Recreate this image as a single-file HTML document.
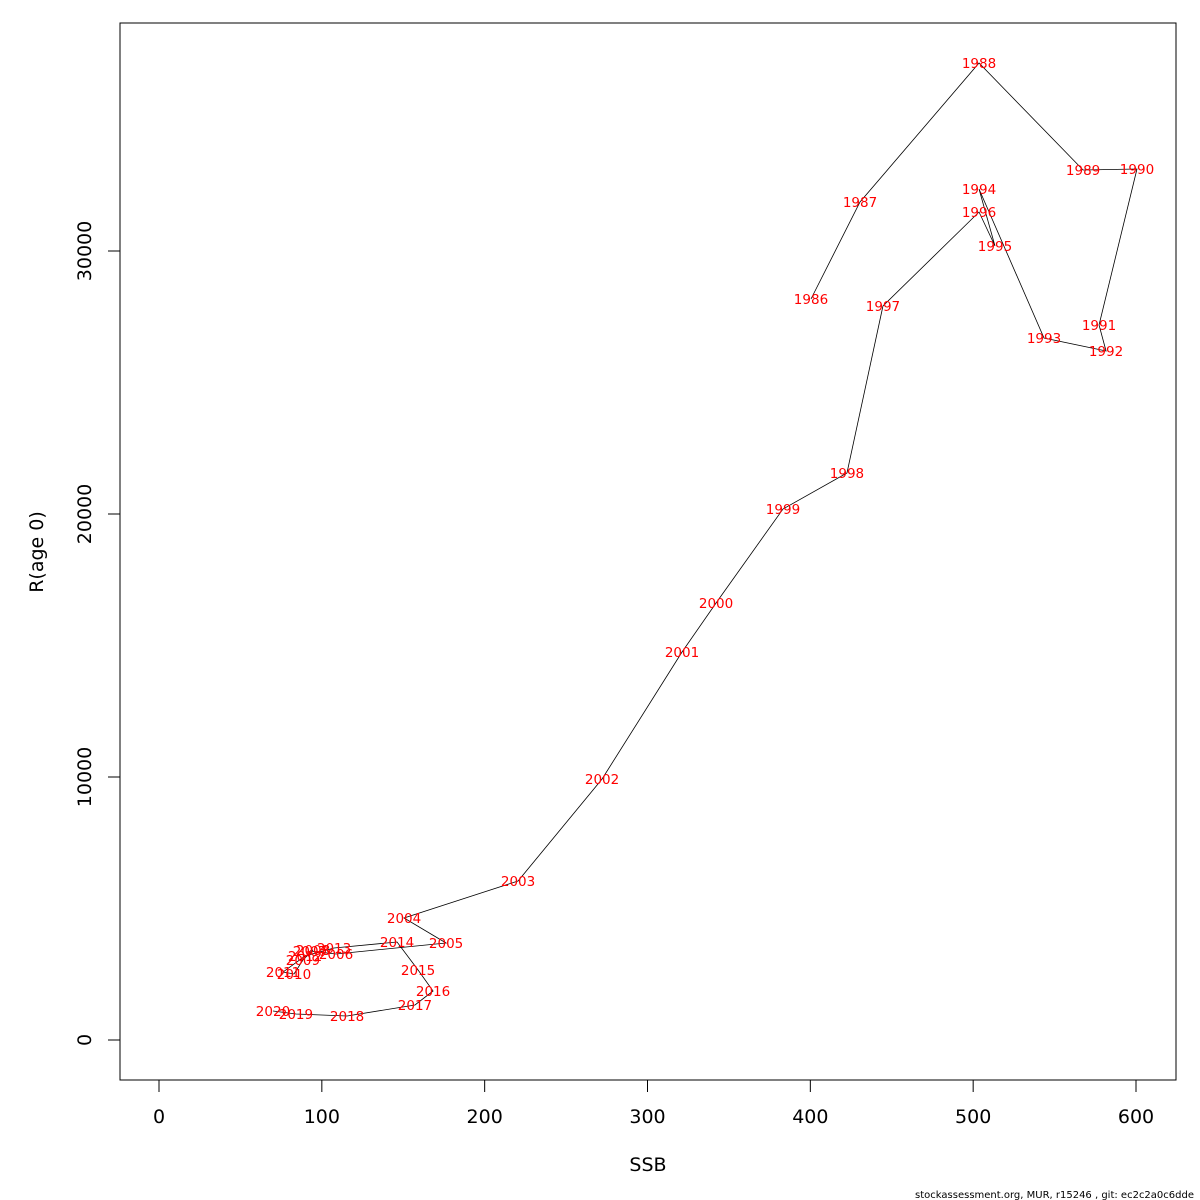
<!DOCTYPE html>
<html><head><meta charset="utf-8"><style>
html,body{margin:0;padding:0;background:#fff;}
svg{display:block;font-family:"DejaVu Sans","Liberation Sans",sans-serif;}
</style></head><body>
<svg id="chart" width="1200" height="1200" viewBox="0 0 1200 1200" xmlns="http://www.w3.org/2000/svg">
<rect width="1200" height="1200" fill="#fff"/>
<rect x="120" y="23" width="1056" height="1057" fill="none" stroke="#000" stroke-width="1"/>
<g id="xaxis"></g>
<g id="yaxis"></g>
<text x="648" y="1171" font-size="19" text-anchor="middle">SSB</text>
<text transform="translate(43,552) rotate(-90)" font-size="19" text-anchor="middle">R(age 0)</text>
<g id="series"></g>
<text x="1194" y="1198" font-size="10" text-anchor="end">stockassessment.org, MUR, r15246 , git: ec2c2a0c6dde</text>
</svg>
<script>
const years = [1986,1987,1988,1989,1990,1991,1992,1993,1994,1995,1996,1997,1998,1999,2000,2001,2002,2003,2004,2005,2006,2007,2008,2009,2010,2011,2012,2013,2014,2015,2016,2017,2018,2019,2020];
const ssb = [400.4,430.5,503.6,567.5,600.6,577.3,581.6,543.5,503.6,513.4,503.6,444.6,422.5,383.2,342.1,321.2,272.1,220.5,150.5,176.3,108.7,92.7,94.6,88.4,82.9,76.2,89.7,107.5,146.2,159.1,168.3,157.2,115.5,84.1,70.0];
const rec = [28175,31863,37148,33080,33118,27186,26198,26692,32357,30190,31483,27909,21559,20190,16616,14753,9924,6046,4639,3688,3270,3384,3422,3042,2510,2586,3194,3498,3726,2662,1863,1331,913,989,1103];
const xTicks = [0,100,200,300,400,500,600];
const yTicks = [0,10000,20000,30000];

const NS='http://www.w3.org/2000/svg';
const xs = v => 159 + v*(1136-159)/600;
const ys = v => 1040 - v*(1040-251)/30000;
function mk(tag, attrs, parent){const e=document.createElementNS(NS,tag);for(const k in attrs)e.setAttribute(k,attrs[k]);parent.appendChild(e);return e;}

const xa=document.getElementById('xaxis');
mk('line',{x1:xs(xTicks[0]),x2:xs(xTicks[xTicks.length-1]),y1:1080,y2:1080,stroke:'#000'},xa);
xTicks.forEach(t=>{
  const l=mk('line',{x1:xs(t),x2:xs(t),y1:1080,y2:1092,stroke:'#000'},xa);
  
  
  const tx=mk('text',{x:xs(t),y:1123,'font-size':19,'text-anchor':'middle'},xa);
  tx.textContent=t;
  
  
});
const ya=document.getElementById('yaxis');
mk('line',{x1:120,x2:120,y1:ys(yTicks[0]),y2:ys(yTicks[yTicks.length-1]),stroke:'#000'},ya);
yTicks.forEach(t=>{
  const l=mk('line',{x1:108,x2:120,y1:ys(t),y2:ys(t),stroke:'#000'},ya);
  
  
  const tx=mk('text',{transform:`translate(91,${ys(t)}) rotate(-90)`,'font-size':19,'text-anchor':'middle'},ya);
  tx.textContent=t;
  
  
});
const sg=document.getElementById('series');
const path=mk('polyline',{points:ssb.map((v,i)=>xs(v)+','+ys(rec[i])).join(' '),fill:'none',stroke:'#000','stroke-width':0.8},sg);


years.forEach((y,i)=>{
  const tx=mk('text',{x:xs(ssb[i]),y:ys(rec[i])+5,'font-size':13.5,fill:'#ff0000','text-anchor':'middle'},sg);
  tx.textContent=y;
  
  
});
</script>
</body></html>
